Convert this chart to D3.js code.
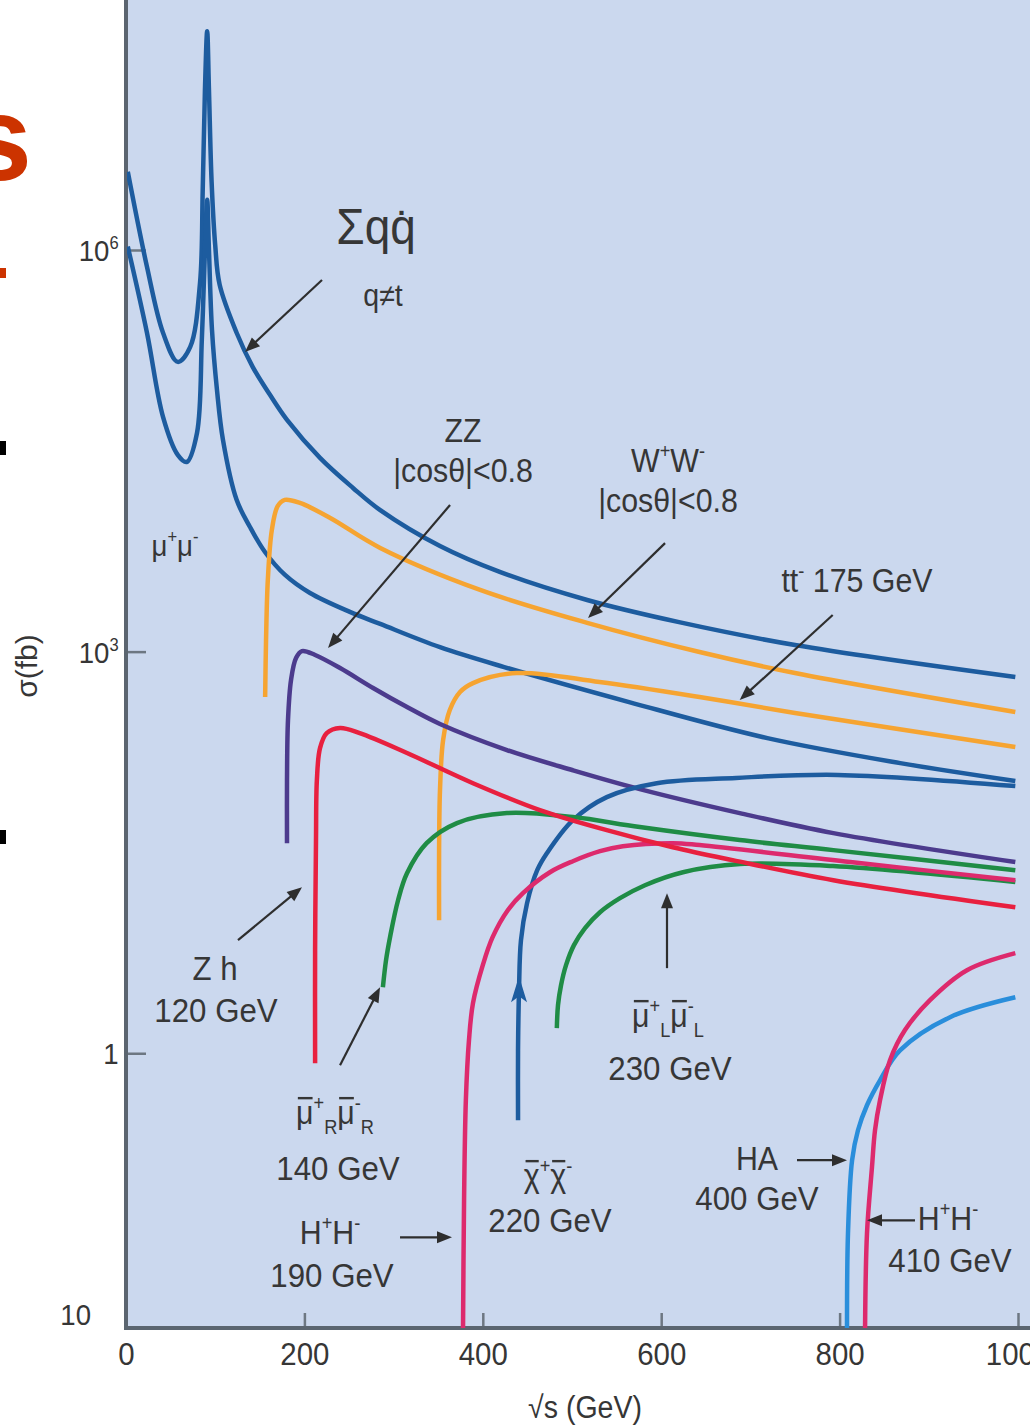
<!DOCTYPE html>
<html>
<head>
<meta charset="utf-8">
<script src="https://cdn.jsdelivr.net/npm/d3@7"></script>
<style>
  html, body { margin: 0; padding: 0; background: #ffffff; }
  svg { display: block; }
  text { font-family: "Liberation Sans", Arial, sans-serif; fill: #363636; }
</style>
</head>
<body>
<svg id="chart" width="1030" height="1428"></svg>
<script>
// ---- Cross sections sigma(fb) versus sqrt(s) (GeV) ----
// Each series: [sqrt(s) in GeV, sigma in fb]
const qqbar = [[2,3.84e6],[23.5,7.5e5],[41.5,2.41e5],[58,1.46e5],[72,1.89e5],[83,5.7e5],[86,2.8e6],[88.5,1.57e7],[91,4.3e7],[93,1.57e7],[96,3.2e6],[100,1.09e6],[105,5.5e5],[124,2.41e5],[142,1.34e5],[161.4,8.28e4],[180.5,5.38e4],[217.5,2.8e4],[254.5,1.67e4],[285,1.14e4],[352,6.15e3],[419,3.94e3],[517,2.43e3],[620,1.66e3],[750,1.12e3],[997,646]];
const mumu = [[2,1.06e6],[23.5,2.41e5],[41.5,5.67e4],[58,2.95e4],[68,2.61e4],[79.6,4.3e4],[85,2.13e5],[88.5,1.0e6],[91,2.37e6],[93,1.0e6],[96.4,2.53e5],[102,9.0e4],[108.7,3.81e4],[124,1.36e4],[139,8.53e3],[155.8,5.55e3],[178.3,3.74e3],[206.3,2.74e3],[251,1.98e3],[285,1.61e3],[352,1.08e3],[424,767],[564,420],[719,226],[868,147],[997,108]];
const wwPairs = [[156,458],[157,1.22e3],[159,3.43e3],[163.5,8.1e3],[170,1.22e4],[178,1.36e4],[195,1.29e4],[229,9.96e3],[285,5.95e3],[397,2.89e3],[517,1.64e3],[643,993],[750,692],[997,354]];
const ttbar = [[351,9.86],[351,32.9],[352,92],[355.5,218],[363,366],[374.5,499],[389,582],[438,692],[531,593],[643,458],[750,348],[997,194]];
const zzPairs = [[180.5,37.1],[180.5,110],[181.6,308],[185,613],[190.6,896],[197.3,1010],[212,944],[240,754],[277,535],[313,392],[352,288],[427,184],[501,130],[576,94],[688,62.2],[793,44.1],[997,26.8]];
const zhHiggs = [[212,0.842],[212,5.89],[213,39.1],[214,110],[217.5,190],[225,246],[240,269],[262,246],[315,175],[389,104],[464,65.5],[539,46.4],[613,34.6],[680,27.7],[793,19.6],[997,12.3]];
const smuonR = [[288,3.11],[291.5,4.95],[296,7.36],[305,13.9],[315,22.1],[337,37.1],[371,52.4],[427,62.2],[501,58.1],[576,48.9],[688,39.1],[793,32.9],[997,23.3]];
const smuonL = [[483,1.54],[484.3,2.28],[487.7,3.22],[493.3,4.55],[502.2,6.42],[514.6,8.6],[531.4,11.3],[553.8,14.4],[581.8,18.0],[624.4,22.5],[688.3,25.9],[792.6,25.0],[997,19.0]];
const chargino = [[439.5,0.316],[439.5,1.05],[440.6,2.96],[442.8,7.0],[449.6,13.2],[461,23.3],[472,31.3],[501,55.1],[539,81.9],[595,104],[684,114],[798,120],[997,99]];
const hpm190 = [[377.8,0.008],[379,0.08],[381,0.445],[384.5,1.25],[389,2.37],[400,4.55],[411,7.36],[428,11.7],[445,15.7],[475.3,22.5],[501,27.2],[531.4,32.3],[557,35.2],[613,37.1],[643,35.9],[812,26.8],[997,19.6]];
const ha400 = [[808.3,0.008],[809.4,0.045],[814,0.159],[820.6,0.266],[830.7,0.409],[845.3,0.628],[867.7,1.05],[923.8,1.86],[997,2.62]];
const hpm410 = [[828.5,0.008],[830.7,0.045],[836.3,0.141],[839.7,0.266],[845.3,0.445],[856.5,0.887],[873.3,1.49],[901.3,2.49],[942.8,4.17],[997,5.59]];

// Axis ticks
const xTicks = [0, 200, 400, 600, 800, 1000];
const yTicks = [1e-2, 1, 1e3, 1e6];
const yTickLabels = [["10", ""], ["1", ""], ["10", "3"], ["10", "6"]];

// Points on curves that the annotation arrows point at: [sqrt(s), sigma]
const arrowTips = [
  [133.4, 1.73e5],   // sum q qbar
  [226.5, 1064],     // ZZ
  [518, 1.78e3],     // W+W-
  [688, 435],        // t tbar
  [197.3, 17.4],     // Zh
  [284.8, 3.11],     // smuon R
  [365.5, 0.0422],   // H+H- 190
  [606.5, 15.7],     // smuon L
  [808.3, 0.159],    // HA
  [830.7, 0.0565]    // H+H- 410
];

// ---- styling / layout ----
const colors = {
  blue: "#1d5c9f", orange: "#f6a431", purple: "#4c3b8d", red: "#e8203f",
  green: "#1f8c45", magenta: "#dd2a6d", lightBlue: "#2a8edb"
};
const series = [
  { values: qqbar, color: colors.blue },
  { values: mumu, color: colors.blue },
  { values: wwPairs, color: colors.orange },
  { values: ttbar, color: colors.orange },
  { values: zzPairs, color: colors.purple },
  { values: chargino, color: colors.blue },
  { values: smuonR, color: colors.green },
  { values: smuonL, color: colors.green },
  { values: hpm190, color: colors.magenta },
  { values: zhHiggs, color: colors.red },
  { values: ha400, color: colors.lightBlue },
  { values: hpm410, color: colors.magenta }
];

const squeeze = 0.92;   // slightly condensed lettering
const svg = d3.select("#chart");
const plot = { left: 126, right: 1030, top: 0, bottom: 1328 };
const x = d3.scaleLinear().domain([0, 1000]).range([126, 1018]);
const y = d3.scaleLog().domain([1e-2, 1e6]).range([1321, 250]);

// slide fragments on the left edge
svg.append("text").attr("x", 32).attr("y", 180).attr("text-anchor", "end")
  .attr("font-size", 120).style("font-weight", "bold")
  .style("fill", "#cc3300").text("s");
svg.append("rect").attr("x", 0).attr("y", 268).attr("width", 6).attr("height", 10).attr("fill", "#cc3300");
svg.append("rect").attr("x", 0).attr("y", 441).attr("width", 6).attr("height", 14).attr("fill", "#000");
svg.append("rect").attr("x", 0).attr("y", 830).attr("width", 6).attr("height", 14).attr("fill", "#000");

// plot background
svg.append("rect").attr("x", plot.left).attr("y", plot.top)
  .attr("width", plot.right - plot.left).attr("height", plot.bottom - plot.top)
  .attr("fill", "#cbd8ee");

svg.append("defs").append("clipPath").attr("id", "plotClip")
  .append("rect").attr("x", plot.left + 1).attr("y", plot.top)
  .attr("width", plot.right - plot.left).attr("height", plot.bottom - plot.top);

// axes
const axisColor = "#5b6570";
const xAxis = d3.axisBottom(x).tickValues(xTicks).tickSize(-15).tickPadding(14).tickFormat(d3.format("d"));
svg.append("g").attr("transform", `translate(0,${plot.bottom})`).call(xAxis)
  .call(g => g.select(".domain").remove())
  .call(g => g.selectAll(".tick line").attr("stroke", "#6d7782").attr("stroke-width", 2.5)
    .attr("display", d => d === 0 ? "none" : null))
  .call(g => g.selectAll(".tick text").attr("font-size", 32).attr("transform", `scale(${squeeze},1)`));

const yAxis = d3.axisLeft(y).tickValues(yTicks).tickSize(-20).tickPadding(8).tickFormat(() => "");
svg.append("g").attr("transform", `translate(${plot.left},0)`).call(yAxis)
  .call(g => g.select(".domain").remove())
  .call(g => g.selectAll(".tick line").attr("stroke", "#6d7782").attr("stroke-width", 2.5)
    .attr("display", d => d === 1e-2 ? "none" : null))
  .call(g => g.selectAll(".tick text").each(function (d) {
    const i = yTicks.indexOf(d);
    const [base, exp] = yTickLabels[i];
    const t = d3.select(this).attr("font-size", 30).attr("dy", "0.35em")
      .attr("transform", `scale(${squeeze},1)`);
    if (d === 1e-2) t.attr("x", -38).attr("dy", "0.1em");
    t.append("tspan").text(base);
    if (exp) t.append("tspan").attr("font-size", 18).attr("dy", -12).text(exp);
  }));

svg.append("line").attr("x1", plot.left).attr("x2", plot.left).attr("y1", 0).attr("y2", plot.bottom + 2)
  .attr("stroke", axisColor).attr("stroke-width", 4);
svg.append("line").attr("x1", plot.left - 2).attr("x2", plot.right).attr("y1", plot.bottom).attr("y2", plot.bottom)
  .attr("stroke", axisColor).attr("stroke-width", 4);

// axis titles
svg.append("text").attr("transform", `translate(585,1418) scale(${squeeze},1)`).attr("text-anchor", "middle")
  .attr("font-size", 31).text("√s (GeV)");
svg.append("text").attr("transform", "translate(37,666) rotate(-90)").attr("text-anchor", "middle")
  .attr("font-size", 30).text("σ(fb)");

// curves
const curveGroup = svg.append("g").attr("clip-path", "url(#plotClip)");
const line = d3.line().x(d => x(d[0])).y(d => y(d[1])).curve(d3.curveCatmullRom.alpha(0.5));
series.forEach(s => {
  curveGroup.append("path").attr("d", line(s.values))
    .attr("fill", "none").attr("stroke", s.color).attr("stroke-width", 4.5)
    .attr("stroke-linejoin", "round").attr("stroke-linecap", "butt");
});

// upward arrowhead marking the chargino threshold
{
  const cx = x(440.6), cy = y(2.96);
  curveGroup.append("path")
    .attr("d", `M${cx},${cy - 14} L${cx + 8},${cy + 12} L${cx},${cy + 6} L${cx - 8},${cy + 12} Z`)
    .attr("fill", colors.blue);
}

// annotation arrows: tail offset (px) from the tip
const arrowTails = [[77, -72], [122, -143], [77, -75], [93, -85], [-64, 53], [-40, 78], [-52, 0], [0, 75], [-50, 0], [48, 0]];
const annot = svg.append("g");
arrowTips.forEach((tip, i) => {
  const x2 = x(tip[0]), y2 = y(tip[1]);
  const x1 = x2 + arrowTails[i][0], y1 = y2 + arrowTails[i][1];
  const len = Math.hypot(x2 - x1, y2 - y1);
  const ux = (x2 - x1) / len, uy = (y2 - y1) / len;
  const hl = 15, hw = 6;
  const bx = x2 - ux * hl, by = y2 - uy * hl;
  annot.append("line").attr("x1", x1).attr("y1", y1).attr("x2", bx + ux * 3).attr("y2", by + uy * 3)
    .attr("stroke", "#2e2e2e").attr("stroke-width", 2.2);
  annot.append("path")
    .attr("d", `M${x2},${y2} L${bx - uy * hw},${by + ux * hw} L${bx + uy * hw},${by - ux * hw} Z`)
    .attr("fill", "#2e2e2e");
});

// text labels: [centre x, centre y, font size, parts]
// part: [text, mode, overbar]; mode 1 = superscript, -1 = subscript
const labels = [
  [376, 226, 50, [["Σqq\u0307", 0]]],
  [383, 295, 31, [["q≠t", 0]]],
  [175, 545, 30, [["μ", 0], ["+", 1], ["μ", 0], ["-", 1]]],
  [463, 430, 33, [["ZZ", 0]]],
  [463, 470, 33, [["|cosθ|<0.8", 0]]],
  [668, 460, 33, [["W", 0], ["+", 1], ["W", 0], ["-", 1]]],
  [668, 500, 33, [["|cosθ|<0.8", 0]]],
  [857, 580, 33, [["tt", 0], ["-", 1], [" 175 GeV", 0]]],
  [215, 968, 34, [["Z h", 0]]],
  [216, 1010, 34, [["120 GeV", 0]]],
  [335, 1112, 33, [["μ", 0, true], ["+", 1], ["R", -1], ["μ", 0, true], ["-", 1], ["R", -1]]],
  [338, 1168, 34, [["140 GeV", 0]]],
  [330, 1232, 33, [["H", 0], ["+", 1], ["H", 0], ["-", 1]]],
  [332, 1275, 34, [["190 GeV", 0]]],
  [548, 1175, 33, [["χ", 0, true], ["+", 1], ["χ", 0, true], ["-", 1]]],
  [550, 1220, 34, [["220 GeV", 0]]],
  [668, 1015, 33, [["μ", 0, true], ["+", 1], ["L", -1], ["μ", 0, true], ["-", 1], ["L", -1]]],
  [670, 1068, 34, [["230 GeV", 0]]],
  [757, 1158, 33, [["HA", 0]]],
  [757, 1198, 34, [["400 GeV", 0]]],
  [948, 1218, 33, [["H", 0], ["+", 1], ["H", 0], ["-", 1]]],
  [950, 1260, 34, [["410 GeV", 0]]]
];
labels.forEach(([cx, cy, size, parts]) => {
  const g = annot.append("g").attr("transform", `translate(${cx},${cy + 0.36 * size}) scale(${squeeze},1)`);
  const t = g.append("text").attr("text-anchor", "middle").attr("font-size", size);
  let shift = 0, charIndex = 0;
  const barred = [];
  parts.forEach(([str, mode, bar]) => {
    const target = mode === 1 ? -0.42 * size : mode === -1 ? 0.32 * size : 0;
    t.append("tspan").attr("dy", target - shift).attr("font-size", mode ? 0.6 * size : size).text(str);
    if (bar) for (let k = 0; k < str.length; k++) barred.push(charIndex + k);
    charIndex += str.length;
    shift = target;
  });
  // overbars for the superpartner symbols
  barred.forEach(ci => {
    const box = t.node().getExtentOfChar(ci);
    g.append("line")
      .attr("x1", box.x + 2).attr("x2", box.x + box.width - 1)
      .attr("y1", -0.78 * size).attr("y2", -0.78 * size)
      .attr("stroke", "#363636").attr("stroke-width", 2.4);
  });
});
</script>
</body>
</html>
